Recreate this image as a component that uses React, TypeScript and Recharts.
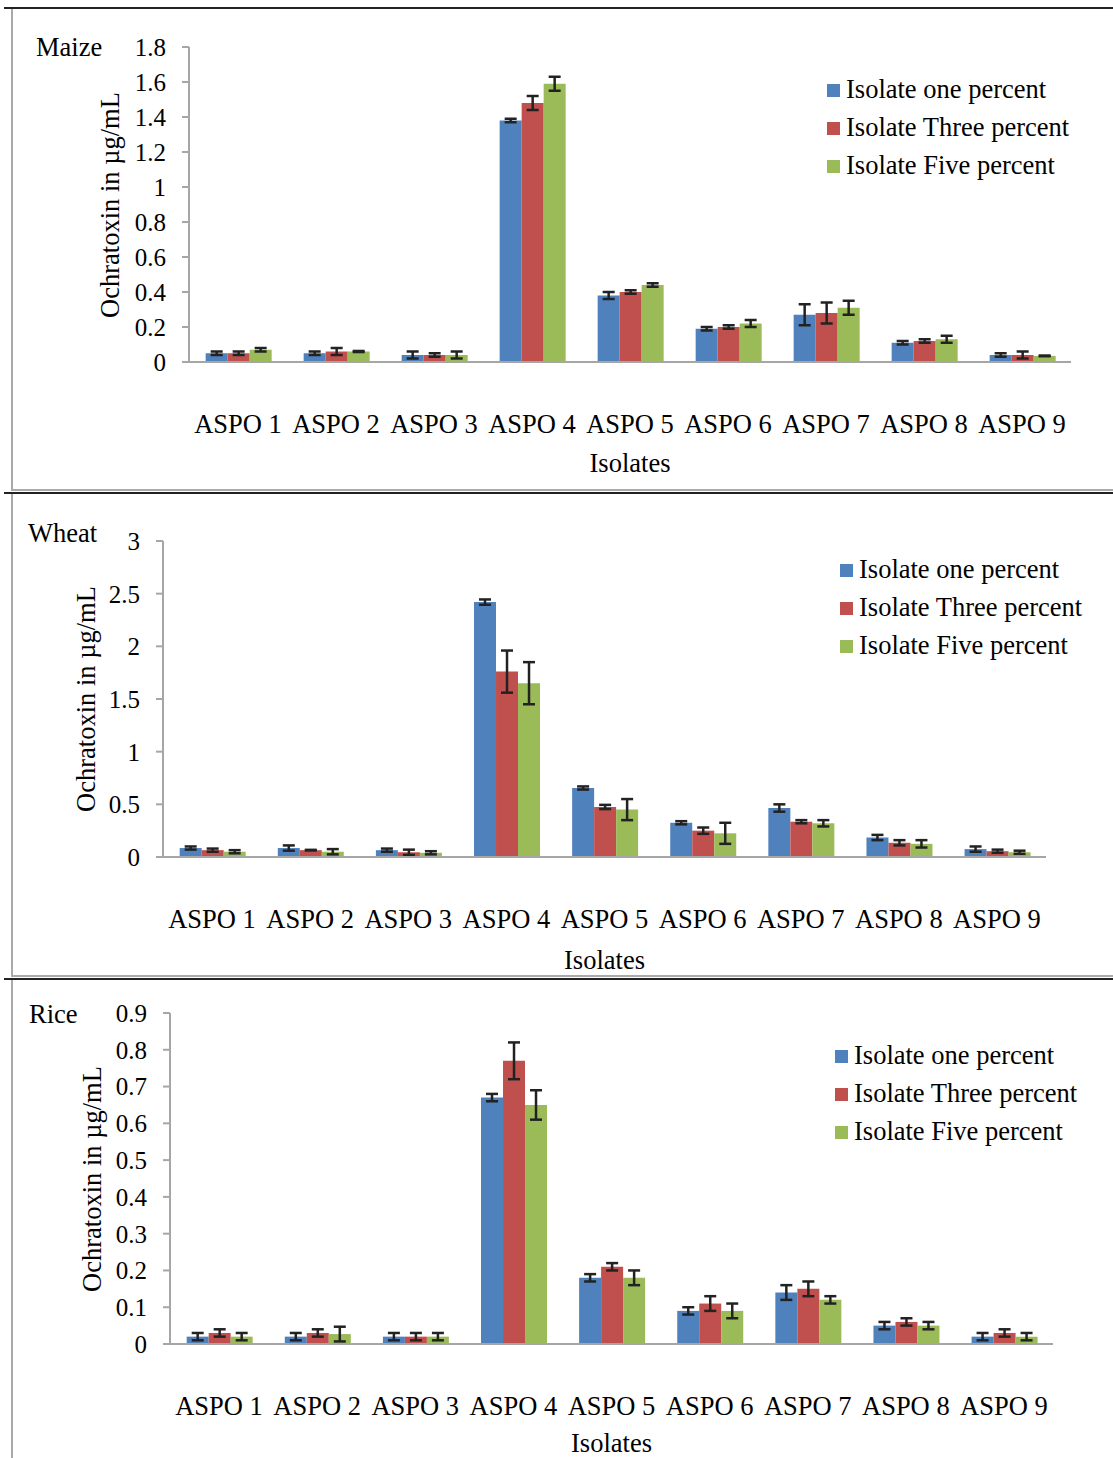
import React from 'react';
import { BarChart, Bar, XAxis, YAxis, ErrorBar } from 'recharts';

const categories = ['ASPO 1', 'ASPO 2', 'ASPO 3', 'ASPO 4', 'ASPO 5', 'ASPO 6', 'ASPO 7', 'ASPO 8', 'ASPO 9'];
const seriesNames = ['Isolate one percent', 'Isolate Three percent', 'Isolate Five percent'];
const seriesColors = ['#4F81BD', '#C0504D', '#9BBB59'];

// Maize
const maizeOne = [0.05, 0.05, 0.04, 1.38, 0.38, 0.19, 0.27, 0.11, 0.04];
const maizeOneErr = [0.01, 0.01, 0.02, 0.01, 0.02, 0.01, 0.06, 0.01, 0.01];
const maizeThree = [0.05, 0.06, 0.04, 1.48, 0.40, 0.20, 0.28, 0.12, 0.04];
const maizeThreeErr = [0.01, 0.02, 0.01, 0.04, 0.01, 0.01, 0.06, 0.01, 0.02];
const maizeFive = [0.07, 0.06, 0.04, 1.59, 0.44, 0.22, 0.31, 0.13, 0.035];
const maizeFiveErr = [0.01, 0.003, 0.02, 0.04, 0.01, 0.02, 0.04, 0.02, 0.002];
const maizeTicks = [0, 0.2, 0.4, 0.6, 0.8, 1, 1.2, 1.4, 1.6, 1.8];

// Wheat
const wheatOne = [0.085, 0.085, 0.065, 2.42, 0.655, 0.325, 0.465, 0.185, 0.075];
const wheatOneErr = [0.015, 0.025, 0.015, 0.025, 0.015, 0.015, 0.035, 0.025, 0.025];
const wheatThree = [0.065, 0.065, 0.045, 1.76, 0.475, 0.25, 0.335, 0.135, 0.055];
const wheatThreeErr = [0.015, 0.003, 0.025, 0.2, 0.02, 0.03, 0.015, 0.025, 0.015];
const wheatFive = [0.05, 0.05, 0.04, 1.65, 0.45, 0.225, 0.32, 0.125, 0.045];
const wheatFiveErr = [0.015, 0.025, 0.015, 0.2, 0.1, 0.1, 0.03, 0.035, 0.015];
const wheatTicks = [0, 0.5, 1, 1.5, 2, 2.5, 3];

// Rice
const riceOne = [0.02, 0.02, 0.02, 0.67, 0.18, 0.09, 0.14, 0.05, 0.02];
const riceOneErr = [0.01, 0.01, 0.01, 0.01, 0.01, 0.01, 0.02, 0.01, 0.01];
const riceThree = [0.03, 0.03, 0.02, 0.77, 0.21, 0.11, 0.15, 0.06, 0.03];
const riceThreeErr = [0.01, 0.01, 0.01, 0.05, 0.01, 0.02, 0.02, 0.01, 0.01];
const riceFive = [0.02, 0.027, 0.02, 0.65, 0.18, 0.09, 0.12, 0.05, 0.02];
const riceFiveErr = [0.01, 0.02, 0.01, 0.04, 0.02, 0.02, 0.01, 0.01, 0.01];
const riceTicks = [0, 0.1, 0.2, 0.3, 0.4, 0.5, 0.6, 0.7, 0.8, 0.9];

const FONT = "'Liberation Serif', 'Times New Roman', serif";
const AXIS_GRAY = '#a6a6a6';
const FS = 26.5;

function buildRows(a: number[], ae: number[], b: number[], be: number[], c: number[], ce: number[]) {
  return categories.map((name, i) => ({ name, s1: a[i], e1: ae[i], s2: b[i], e2: be[i], s3: c[i], e3: ce[i] }));
}

type PanelProps = {
  crop: string;
  top: number;
  height: number;
  plotLeft: number;
  plotRight: number;
  plotTop: number;
  plotBottom: number;
  ticks: number[];
  rows: any[];
  cropX: number;
  cropY: number;
  yLabelX: number;
  legendX: number;
  legendY: number;
  isolatesY: number;
};

function Panel(p: PanelProps) {
  const marginTop = p.plotTop - p.top;
  const xAxisHeight = p.top + p.height - p.plotBottom;
  const yMax = p.ticks[p.ticks.length - 1];
  const plotCenterX = (p.plotLeft + p.plotRight) / 2;
  const plotCenterY = (p.plotTop + p.plotBottom) / 2;
  const textStyle: React.CSSProperties = { position: 'absolute', fontFamily: FONT, fontSize: FS, lineHeight: '26px', color: '#000', whiteSpace: 'nowrap' };
  return (
    <>
      <div style={{ position: 'absolute', left: 0, top: p.top, width: 1113, height: p.height }}>
        <BarChart
          width={1113}
          height={p.height}
          data={p.rows}
          margin={{ top: marginTop, right: 1113 - p.plotRight, bottom: 0, left: 0 }}
          barGap={0}
          barCategoryGap="17%"
        >
          <XAxis
            dataKey="name"
            height={xAxisHeight}
            axisLine={{ stroke: AXIS_GRAY, strokeWidth: 2 }}
            tickLine={false}
            tickSize={0}
            tickMargin={52}
            interval={0}
            tick={{ fill: '#000', fontSize: FS, fontFamily: FONT }}
          />
          <YAxis
            width={p.plotLeft}
            domain={[0, yMax]}
            ticks={p.ticks}
            interval={0}
            axisLine={{ stroke: AXIS_GRAY, strokeWidth: 2 }}
            tickLine={{ stroke: AXIS_GRAY, strokeWidth: 2 }}
            tickSize={7}
            tickMargin={16}
            tickFormatter={(v: number) => String(v)}
            tick={{ fill: '#000', fontSize: 25, fontFamily: FONT }}
          />
          {[1, 2, 3].map((k) => (
            <Bar key={k} dataKey={'s' + k} fill={seriesColors[k - 1]} isAnimationActive={false}>
              <ErrorBar dataKey={'e' + k} width={6} strokeWidth={2.5} stroke="#222" />
            </Bar>
          ))}
        </BarChart>
      </div>
      <div style={{ ...textStyle, left: p.cropX, top: p.cropY - 13 }}>{p.crop}</div>
      <div
        style={{
          ...textStyle,
          left: p.yLabelX,
          top: plotCenterY,
          transform: 'translate(-50%, -50%) rotate(-90deg)',
        }}
      >
        Ochratoxin in µg/mL
      </div>
      <div style={{ ...textStyle, left: plotCenterX, top: p.isolatesY - 13, transform: 'translateX(-50%)' }}>Isolates</div>
      {seriesNames.map((n, i) => (
        <div key={n} style={{ position: 'absolute', left: p.legendX, top: p.legendY + i * 38 - 13, height: 26, display: 'flex', alignItems: 'center' }}>
          <div style={{ width: 13, height: 13, background: seriesColors[i], marginRight: 6, marginTop: 2 }} />
          <div style={{ fontFamily: FONT, fontSize: FS, lineHeight: '26px', color: '#000', whiteSpace: 'nowrap' }}>{n}</div>
        </div>
      ))}
    </>
  );
}

export default function App() {
  const maizeRows = buildRows(maizeOne, maizeOneErr, maizeThree, maizeThreeErr, maizeFive, maizeFiveErr);
  const wheatRows = buildRows(wheatOne, wheatOneErr, wheatThree, wheatThreeErr, wheatFive, wheatFiveErr);
  const riceRows = buildRows(riceOne, riceOneErr, riceThree, riceThreeErr, riceFive, riceFiveErr);
  const line = (style: React.CSSProperties) => <div style={{ position: 'absolute', ...style }} />;
  return (
    <div style={{ position: 'absolute', left: 0, top: 0, width: 1113, height: 1458, background: '#fff', overflow: 'hidden' }}>
      {line({ left: 4, top: 7, width: 1109, height: 2, background: '#222' })}
      {line({ left: 11, top: 9, width: 1.5, height: 481, background: '#aaa' })}
      {line({ left: 11, top: 489, width: 1102, height: 1.5, background: '#aaa' })}
      {line({ left: 4, top: 492, width: 1109, height: 2, background: '#222' })}
      {line({ left: 11, top: 494, width: 1.5, height: 482, background: '#aaa' })}
      {line({ left: 11, top: 975, width: 1102, height: 1.5, background: '#aaa' })}
      {line({ left: 4, top: 978, width: 1109, height: 2, background: '#222' })}
      {line({ left: 11, top: 980, width: 1.5, height: 478, background: '#aaa' })}

      <Panel
        crop="Maize"
        top={10}
        height={478}
        plotLeft={189}
        plotRight={1071}
        plotTop={47}
        plotBottom={362}
        ticks={maizeTicks}
        rows={maizeRows}
        cropX={36}
        cropY={47}
        yLabelX={110}
        legendX={827}
        legendY={89}
        isolatesY={463}
      />
      <Panel
        crop="Wheat"
        top={495}
        height={479}
        plotLeft={163}
        plotRight={1046}
        plotTop={541}
        plotBottom={857}
        ticks={wheatTicks}
        rows={wheatRows}
        cropX={28}
        cropY={533}
        yLabelX={86}
        legendX={840}
        legendY={569}
        isolatesY={960}
      />
      <Panel
        crop="Rice"
        top={981}
        height={477}
        plotLeft={170}
        plotRight={1053}
        plotTop={1013}
        plotBottom={1344}
        ticks={riceTicks}
        rows={riceRows}
        cropX={29}
        cropY={1014}
        yLabelX={92}
        legendX={835}
        legendY={1055}
        isolatesY={1443}
      />
    </div>
  );
}
